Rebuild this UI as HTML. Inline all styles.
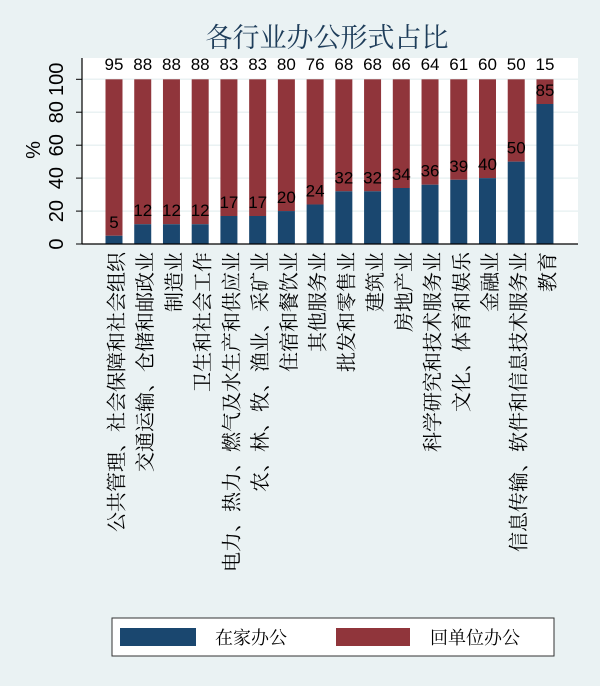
<!DOCTYPE html>
<html><head><meta charset="utf-8"><style>
html,body{margin:0;padding:0;background:#eaf2f3;}
svg{display:block;}
</style></head><body>
<svg width="600" height="686" viewBox="0 0 600 686" xmlns="http://www.w3.org/2000/svg">
<rect x="0" y="0" width="600" height="686" fill="#eaf2f3"/>
<rect x="82" y="58" width="496" height="186" fill="#ffffff"/>
<g stroke="#eaf2f3" stroke-width="1.5">
<line x1="82" x2="578" y1="79.3" y2="79.3"/>
<line x1="82" x2="578" y1="112.2" y2="112.2"/>
<line x1="82" x2="578" y1="145.2" y2="145.2"/>
<line x1="82" x2="578" y1="178.1" y2="178.1"/>
<line x1="82" x2="578" y1="211.1" y2="211.1"/>
</g>
<text x="327" y="47" text-anchor="middle" font-family="Liberation Serif, 'Noto Serif CJK SC', serif" font-size="27" fill="#1e3d5a">各行业办公形式占比</text>
<g id="bars"></g>
<line x1="82" y1="58" x2="82" y2="244" stroke="#000" stroke-width="1.2"/>
<line x1="82" y1="244" x2="578" y2="244" stroke="#000" stroke-width="1.2"/>
<g stroke="#000" stroke-width="1">
<line x1="76" x2="82" y1="244" y2="244"/><line x1="76" x2="82" y1="211.1" y2="211.1"/><line x1="76" x2="82" y1="178.1" y2="178.1"/><line x1="76" x2="82" y1="145.2" y2="145.2"/><line x1="76" x2="82" y1="112.2" y2="112.2"/><line x1="76" x2="82" y1="79.3" y2="79.3"/>
</g>
<g font-family="Liberation Sans, sans-serif" font-size="20" fill="#000" text-anchor="middle">
<text transform="translate(63,244) rotate(-90)">0</text>
<text transform="translate(63,211.1) rotate(-90)">20</text>
<text transform="translate(63,178.1) rotate(-90)">40</text>
<text transform="translate(63,145.2) rotate(-90)">60</text>
<text transform="translate(63,112.2) rotate(-90)">80</text>
<text transform="translate(63,79.3) rotate(-90)">100</text>
<text transform="translate(40,150) rotate(-90)">%</text>
</g>
<g id="labels"></g>
<rect x="112" y="618" width="442" height="38" fill="#fff" stroke="#333" stroke-width="1"/>
<rect x="120" y="628" width="76" height="18" fill="#1a476f"/>
<rect x="336" y="628" width="74" height="18" fill="#90353b"/>
<text x="215" y="644" font-family="Liberation Serif, 'Noto Serif CJK SC', serif" font-size="18">在家办公</text>
<text x="430" y="644" font-family="Liberation Serif, 'Noto Serif CJK SC', serif" font-size="18">回单位办公</text>
</svg>
<script>
var home=[5,12,12,12,17,17,20,24,32,32,34,36,39,40,50,85];
var names=["公共管理、社会保障和社会组织","交通运输、仓储和邮政业","制造业","卫生和社会工作","电力、热力、燃气及水生产和供应业","农、林、牧、渔业、采矿业","住宿和餐饮业","其他服务业","批发和零售业","建筑业","房地产业","科学研究和技术服务业","文化、体育和娱乐","金融业","信息传输、软件和信息技术服务业","教育"];
var ns="http://www.w3.org/2000/svg",b=document.getElementById("bars"),l=document.getElementById("labels");
function el(t,a,p,txt){var e=document.createElementNS(ns,t);for(var k in a)e.setAttribute(k,a[k]);if(txt)e.textContent=txt;p.appendChild(e);return e;}
var s=1.647;
home.forEach(function(h,i){
var cx=114+28.73*i, w=17, y0=244, y100=244-100*s, yh=244-h*s;
el("rect",{x:cx-w/2,y:y100,width:w,height:yh-y100,fill:"#90353b"},b);
el("rect",{x:cx-w/2,y:yh,width:w,height:y0-yh,fill:"#1a476f"},b);
el("text",{x:cx,y:70,"text-anchor":"middle","font-family":"Liberation Sans, sans-serif","font-size":"17"},b,String(100-h));
el("text",{x:cx,y:yh-8,"text-anchor":"middle","font-family":"Liberation Sans, sans-serif","font-size":"17"},b,String(h));
el("text",{transform:"translate("+(cx+1)+",252) rotate(-90)","text-anchor":"end","dominant-baseline":"central","font-family":"'Noto Serif CJK SC', serif","font-size":"20"},l,names[i]);
});
</script>
</body></html>
